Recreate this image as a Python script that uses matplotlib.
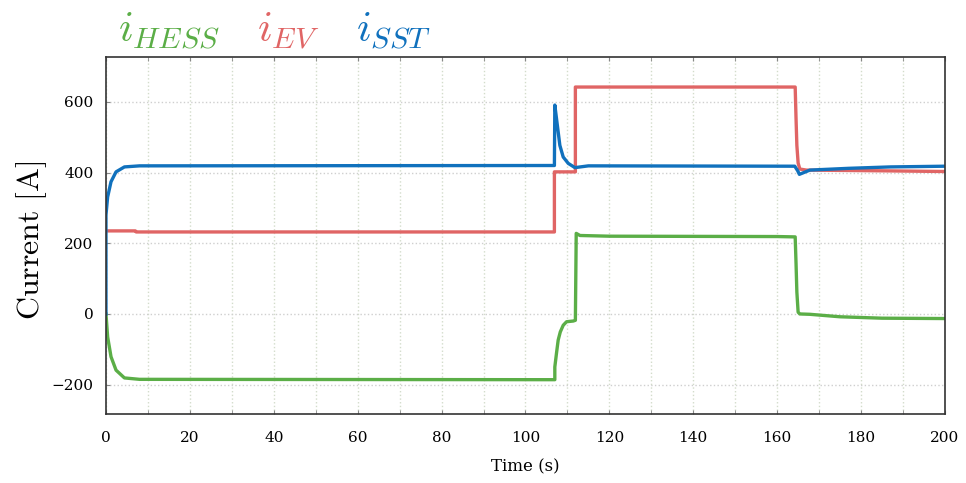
import matplotlib.pyplot as plt
from matplotlib.ticker import MultipleLocator

# current traces (time in s, current in A), breakpoints of the recorded signals
t_sst = [0, 0, 0.4, 1.2, 2.4, 4.4, 8, 106.9, 107.0, 107.4, 107.8, 108.2, 109.0,
         110.2, 111.8, 115, 164.2, 164.9, 165.3, 167.8, 177, 187, 200]
i_sst = [0, 280, 331, 374, 402, 416, 419, 420, 591, 553, 515, 477, 444,
         426, 414, 419, 418, 405, 395, 407, 412, 416, 418]

t_ev = [0, 7.0, 7.2, 106.9, 106.9, 111.9, 111.9, 164.3, 164.5, 164.7, 165.0,
        165.4, 167, 185, 200]
i_ev = [235, 235, 232, 232, 402, 402, 642, 642, 554, 477, 427,
        410, 407, 405, 403]

t_hess = [0, 0.4, 1.2, 2.4, 4.4, 8, 107.0, 107.0, 107.4, 107.8, 108.3, 109.0,
          109.8, 111.4, 111.9, 112.1, 113, 120, 160, 164.3, 164.5, 164.7,
          165.0, 165.4, 167.8, 175, 185, 200]
i_hess = [0, -65, -121, -159, -181, -185, -186, -150, -111, -74, -51, -32,
          -22, -20, -18, 228, 222, 220, 219, 218, 144, 62,
          5, 0, -1, -8, -12, -13]

c_hess = '#5bae47'
c_ev = '#e06565'
c_sst = '#1071bd'

plt.rcParams['font.family'] = ['DejaVu Serif']
plt.rcParams['mathtext.fontset'] = 'cm'

fig = plt.figure(figsize=(9.66, 4.83), dpi=100)
ax = fig.add_axes([0.1097, 0.1429, 0.8685, 0.7391])

ax.plot(t_ev, i_ev, color=c_ev, lw=2.4)
ax.plot(t_hess, i_hess, color=c_hess, lw=2.4)
ax.plot(t_sst, i_sst, color=c_sst, lw=2.4)

ax.set_xlim(0, 200)
ax.set_ylim(-283, 727)
ax.xaxis.set_major_locator(MultipleLocator(20))
ax.xaxis.set_minor_locator(MultipleLocator(10))
ax.yaxis.set_major_locator(MultipleLocator(200))

ax.grid(True, which='both', axis='x', color='#d3dccb', linestyle=':', lw=1)
ax.grid(True, which='major', axis='y', color='#cfcfcf', linestyle=':', lw=1)

ax.tick_params(which='both', direction='in', top=True, length=3,
               color='#888888', labelsize=11)
ax.tick_params(axis='x', pad=12)
ax.tick_params(axis='y', pad=9)
for s in ax.spines.values():
    s.set_color('#333333')
    s.set_linewidth(1.2)

ax.set_xlabel('Time (s)', fontsize=12, labelpad=10)
fig.text(32 / 966, 1 - 240 / 483, r'$\mathrm{Current\ [A]}$', fontsize=23,
         rotation=90, ha='center', va='center')

# coloured signal names along the top
fig.text(0.122, 0.912, r'$i_{HESS}$', color=c_hess, fontsize=31)
fig.text(0.266, 0.912, r'$i_{EV}$', color=c_ev, fontsize=31)
fig.text(0.369, 0.912, r'$i_{SST}$', color=c_sst, fontsize=31)

fig.savefig('out.png', dpi=100)
